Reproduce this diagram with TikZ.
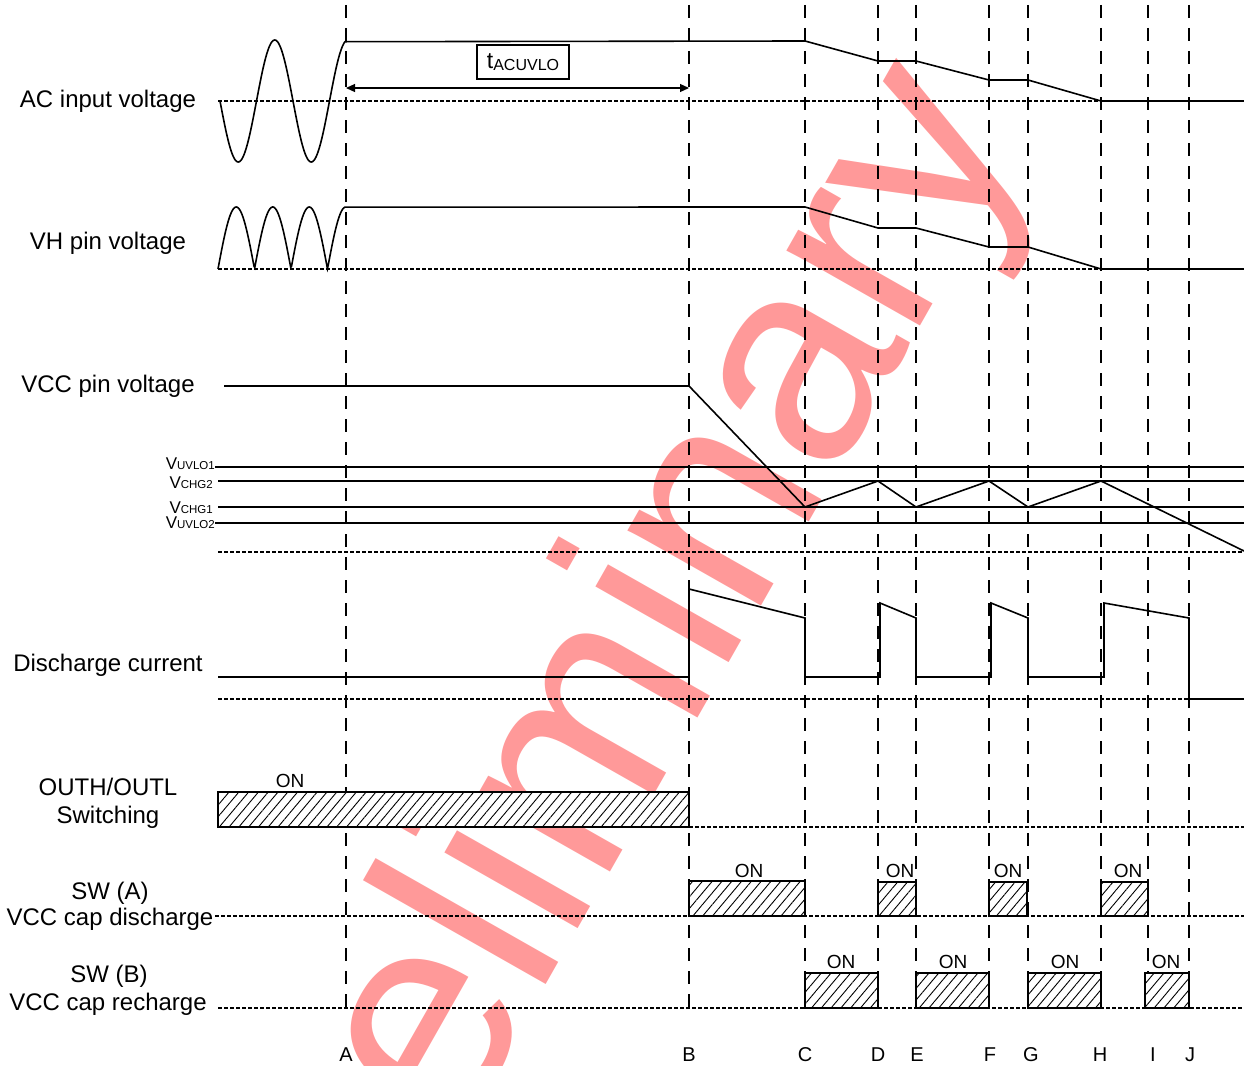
\documentclass[tikz,border=0pt]{standalone}
\usepackage{fontspec}
\setmainfont{Liberation Sans}
\usetikzlibrary{patterns.meta,arrows.meta}
\definecolor{wmcol}{RGB}{255,153,153}
\begin{document}
\begin{tikzpicture}[x=1pt,y=-1pt,
  sig/.style={line width=1.6pt, line join=miter},
  vdash/.style={line width=1.6pt, dash pattern=on 13pt off 10pt},
  basel/.style={line width=1.4pt, dash pattern=on 3.5pt off 2.5pt},
  hbox/.style={draw, line width=1.4pt, preaction={fill=white},
     pattern={Lines[angle=50,distance=7.5pt,line width=0.9pt]}},
  lbl/.style={font=\fontsize{24}{27}\selectfont, inner sep=0, anchor=base},
  onl/.style={font=\fontsize{19}{21}\selectfont, inner sep=0, anchor=base},
  tickl/.style={font=\fontsize{20}{22}\selectfont, inner sep=0, anchor=base},
  vlab/.style={inner sep=0, anchor=base east}
]
\useasboundingbox (0,0) rectangle (1244,1065);
\clip (0,0) rectangle (1244,1065);
% watermark
\node[text=wmcol, font=\fontsize{290}{290}\selectfont, rotate=60.4, anchor=base west, inner sep=0] (wm) at (314,1394) {Preliminary};

% baselines
\draw[basel] (218,101) -- (1244,101);
\draw[basel] (218,269) -- (1244,269);
\draw[basel] (218,552) -- (1244,552);
\draw[basel] (218,699) -- (1244,699);
\draw[basel] (689,827) -- (1244,827);
\draw[basel] (215,916) -- (1244,916);
\draw[basel] (218,1008) -- (1244,1008);

% vertical dashed lines
\foreach \n/\xx in {A/346,B/689,C/805,D/878,E/916,F/989,G/1028,H/1101,I/1148,J/1189}{
  \coordinate (top\n) at (\xx,5);
  \coordinate (bot\n) at (\xx,1008);
  \draw[vdash] (top\n) -- (bot\n);
}

% AC input voltage
\draw[sig] plot[domain=220:345,samples=160] (\x,{101+61*sin(((\x-220)/73)*360)})
  -- (805,41) -- (878,61) -- (916,61) -- (989,80) -- (1028,80) -- (1101,101) -- (1244,101);
% tACUVLO
\node[draw, line width=1.2pt, minimum width=92pt, minimum height=34pt, inner sep=0] (tac) at (523,62)
  {\fontsize{23}{24}\selectfont t\raisebox{-2.5pt}{\fontsize{16}{18}\selectfont ACUVLO}};
\coordinate (arA) at (346,88);
\coordinate (arB) at (689,88);
\draw[line width=1.2pt, {Triangle[length=9pt,width=8pt]}-{Triangle[length=9pt,width=8pt]}] (arA) -- (arB);

% VH pin voltage
\draw[sig] plot[domain=218:345,samples=160] (\x,{269-62*abs(sin(((\x-218)/36.5)*180))})
  -- (805,207) -- (878,228) -- (916,228) -- (989,247) -- (1028,247) -- (1101,269) -- (1244,269);

% VCC pin voltage
\draw[sig] (224,386) -- (689,386) -- (805,507) -- (878,481) -- (916,507) -- (989,481) -- (1028,507) -- (1101,481) -- (1244,551);
\draw[sig] (215,467) -- (1244,467);
\draw[sig] (218,481) -- (1244,481);
\draw[sig] (218,507) -- (1244,507);
\draw[sig] (215,523) -- (1244,523);
\node[vlab] (vu1) at (215,469) {\fontsize{17}{17}\selectfont V\fontsize{11.5}{12}\selectfont UVLO1};
\node[vlab] (vc2) at (213,488) {\fontsize{17}{17}\selectfont V\fontsize{11.5}{12}\selectfont CHG2};
\node[vlab] (vc1) at (213,513) {\fontsize{17}{17}\selectfont V\fontsize{11.5}{12}\selectfont CHG1};
\node[vlab] (vu2) at (215,528) {\fontsize{17}{17}\selectfont V\fontsize{11.5}{12}\selectfont UVLO2};

% Discharge current
\draw[sig] (218,677) -- (689,677) -- (689,589) -- (805,618) -- (805,677) -- (880,677) -- (880,603) -- (916,618) -- (916,677)
  -- (991,677) -- (991,603) -- (1028,618) -- (1028,677) -- (1104,677) -- (1104,603) -- (1189,618) -- (1189,699) -- (1244,699);

% OUTH/OUTL
\draw[hbox] (218,792) rectangle (689,827);
\node[onl] (on0) at (290,787) {ON};

% SW (A)
\draw[hbox] (689,881) rectangle (805,916);
\draw[hbox] (878,882) rectangle (916,916);
\draw[hbox] (989,882) rectangle (1027,916);
\draw[hbox] (1101,882) rectangle (1148,916);
\node[onl] (onA1) at (749,877) {ON};
\node[onl] (onA2) at (900,877) {ON};
\node[onl] (onA3) at (1008,877) {ON};
\node[onl] (onA4) at (1128,877) {ON};

% SW (B)
\draw[hbox] (805,973) rectangle (878,1008);
\draw[hbox] (916,973) rectangle (989,1008);
\draw[hbox] (1028,973) rectangle (1101,1008);
\draw[hbox] (1145,973) rectangle (1189,1008);
\node[onl] (onB1) at (841,968) {ON};
\node[onl] (onB2) at (953,968) {ON};
\node[onl] (onB3) at (1065,968) {ON};
\node[onl] (onB4) at (1166,968) {ON};

% left labels
\node[lbl] (l1) at (108,107) {AC input voltage};
\node[lbl] (l2) at (108,249) {VH pin voltage};
\node[lbl] (l3) at (108,392) {VCC pin voltage};
\node[lbl] (l4) at (108,671) {Discharge current};
\node[lbl] (l5) at (108,795) {OUTH/OUTL};
\node[lbl] (l6) at (108,823) {Switching};
\node[lbl] (l7) at (110,899) {SW (A)};
\node[lbl] (l8) at (110,925) {VCC cap discharge};
\node[lbl] (l9) at (109,982) {SW (B)};
\node[lbl] (l10) at (108,1010) {VCC cap recharge};

% bottom letters
\foreach \n/\xx in {A/346,B/689,C/805,D/878,E/917,F/990,G/1031,H/1100,I/1153,J/1190}{
  \node[tickl] (t\n) at (\xx,1061) {\n};
}
\end{tikzpicture}
\end{document}
